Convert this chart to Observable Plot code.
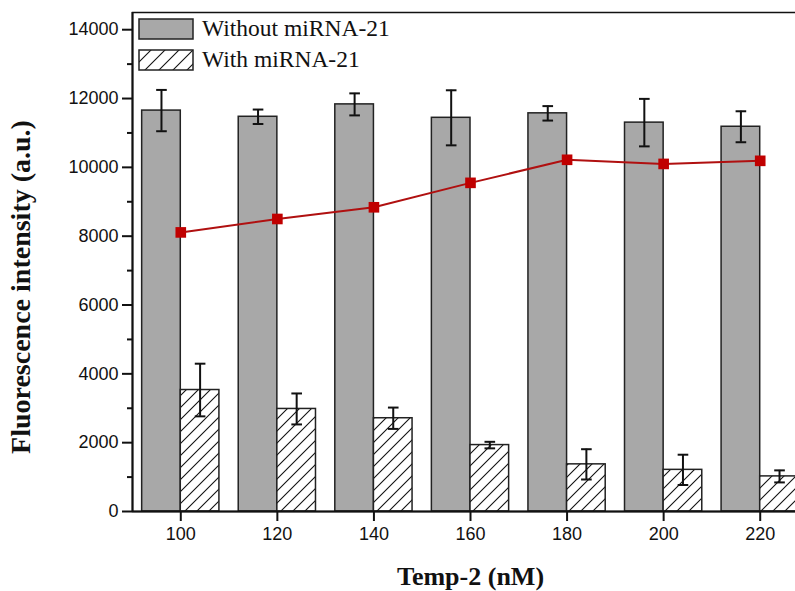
<!DOCTYPE html>
<html>
<head>
<meta charset="utf-8">
<script src="https://cdn.jsdelivr.net/npm/d3@7"></script>
<script src="https://cdn.jsdelivr.net/npm/@observablehq/plot@0.6"></script>
<style>
  html, body { margin: 0; padding: 0; background: white; }
  #wrap { position: relative; width: 795px; height: 591px; overflow: hidden; }
  .leg { position: absolute; left: 138px; font-family: "Liberation Serif", "Times New Roman", serif; font-size: 23.5px; color: #111; display: flex; align-items: center; white-space: nowrap; }
  .leg svg { margin-right: 8px; }
</style>
</head>
<body>
<div id="wrap"></div>
<script>
const categories = [100, 120, 140, 160, 180, 200, 220];
const withoutValues = [11650, 11470, 11830, 11440, 11570, 11300, 11180];
const withoutErrors = [600, 210, 320, 800, 210, 690, 450];
const withValues = [3530, 2980, 2710, 1930, 1370, 1210, 1020];
const withErrors = [765, 450, 310, 95, 440, 440, 175];
const lineValues = [8110, 8500, 8840, 9550, 10220, 10100, 10190];
const yTicks = [0, 2000, 4000, 6000, 8000, 10000, 12000, 14000];
const yMinorTicks = [1000, 3000, 5000, 7000, 9000, 11000, 13000];
const seriesNames = ["Without miRNA-21", "With miRNA-21"];
const xLabel = "Temp-2 (nM)";
const yLabel = "Fluorescence intensity (a.u.)";

const data = categories.map((c, i) => ({
  cat: c,
  without: withoutValues[i], withoutErr: withoutErrors[i],
  with: withValues[i], withErr: withErrors[i],
  line: lineValues[i]
}));

const halfW = 8;   // bar width in x units
const cap = 1.1;   // error cap half-width in x units

function hatchDefs() {
  const defs = d3.create("svg:defs");
  const p = defs.append("pattern")
    .attr("id", "hatch").attr("patternUnits", "userSpaceOnUse")
    .attr("width", 12).attr("height", 12);
  p.append("rect").attr("width", 12).attr("height", 12).attr("fill", "white");
  p.append("path").attr("d", "M0,12L12,0M-3,3L3,-3M9,15L15,9")
    .attr("stroke", "#111").attr("stroke-width", 1.1);
  return defs.node();
}

const chart = Plot.plot({
  width: 795, height: 591,
  marginLeft: 132, marginTop: 12, marginBottom: 80, marginRight: -13,
  x: {domain: [90, 230]},
  y: {domain: [0, 14500]},
  style: {fontFamily: "'Liberation Sans', Arial, sans-serif", fontSize: "18px", background: "white", color: "#111"},
  marks: [
    hatchDefs,
    Plot.rect(data, {x1: d => d.cat - halfW, x2: d => d.cat, y1: 0, y2: "without", fill: "#a8a8a8", stroke: "#222", strokeWidth: 1.5}),
    Plot.rect(data, {x1: d => d.cat, x2: d => d.cat + halfW, y1: 0, y2: "with", fill: "url(#hatch)", stroke: "#222", strokeWidth: 1.5}),
    Plot.ruleX(data, {x: d => d.cat - halfW / 2, y1: d => d.without - d.withoutErr, y2: d => d.without + d.withoutErr, stroke: "#111", strokeWidth: 2}),
    Plot.link(data, {x1: d => d.cat - halfW / 2 - cap, x2: d => d.cat - halfW / 2 + cap, y1: d => d.without + d.withoutErr, y2: d => d.without + d.withoutErr, stroke: "#111", strokeWidth: 2}),
    Plot.link(data, {x1: d => d.cat - halfW / 2 - cap, x2: d => d.cat - halfW / 2 + cap, y1: d => d.without - d.withoutErr, y2: d => d.without - d.withoutErr, stroke: "#111", strokeWidth: 2}),
    Plot.ruleX(data, {x: d => d.cat + halfW / 2, y1: d => d.with - d.withErr, y2: d => d.with + d.withErr, stroke: "#111", strokeWidth: 2}),
    Plot.link(data, {x1: d => d.cat + halfW / 2 - cap, x2: d => d.cat + halfW / 2 + cap, y1: d => d.with + d.withErr, y2: d => d.with + d.withErr, stroke: "#111", strokeWidth: 2}),
    Plot.link(data, {x1: d => d.cat + halfW / 2 - cap, x2: d => d.cat + halfW / 2 + cap, y1: d => d.with - d.withErr, y2: d => d.with - d.withErr, stroke: "#111", strokeWidth: 2}),
    Plot.line(data, {x: "cat", y: "line", stroke: "#b01010", strokeWidth: 2}),
    Plot.dot(data, {x: "cat", y: "line", symbol: "square", r: 6, fill: "#c00000", stroke: "none"}),
    Plot.frame({stroke: "#111", strokeWidth: 1.5}),
    Plot.axisY({ticks: yTicks, tickSize: 10, tickPadding: 4, label: null, strokeWidth: 2, tickFormat: d => String(d)}),
    Plot.axisY({ticks: yMinorTicks, tickSize: 5, text: null, label: null, strokeWidth: 2}),
    Plot.axisX({ticks: categories, tickSize: 10, tickPadding: 6, label: null, strokeWidth: 2, tickFormat: d => String(d)}),
    Plot.ruleY([0], {stroke: "#111", strokeWidth: 2}),
    Plot.ruleX([90], {stroke: "#111", strokeWidth: 2}),
    Plot.text([xLabel], {frameAnchor: "bottom", dy: 73, lineAnchor: "bottom", textAnchor: "middle", fontSize: 26, fontWeight: "bold", fontFamily: "'Liberation Serif', 'Times New Roman', serif"}),
    Plot.text([yLabel], {frameAnchor: "left", dx: -111, dy: 25, rotate: -90, textAnchor: "middle", lineAnchor: "middle", fontSize: 28, fontWeight: "bold", fontFamily: "'Liberation Serif', 'Times New Roman', serif"})
  ]
});

const wrap = document.getElementById("wrap");
wrap.appendChild(chart);

function legendRow(top, name, fill, withPattern) {
  const row = document.createElement("div");
  row.className = "leg";
  row.style.top = top + "px";
  const s = d3.create("svg").attr("width", 56).attr("height", 22);
  if (withPattern) {
    const p = s.append("defs").append("pattern").attr("id", "hatchLeg").attr("patternUnits", "userSpaceOnUse").attr("width", 14).attr("height", 14);
    p.append("rect").attr("width", 14).attr("height", 14).attr("fill", "white");
    p.append("path").attr("d", "M0,14L14,0M-3,3L3,-3M11,17L17,11").attr("stroke", "#111").attr("stroke-width", 1.1);
  }
  s.append("rect").attr("x", 1).attr("y", 1).attr("width", 54).attr("height", 20)
    .attr("fill", withPattern ? "url(#hatchLeg)" : fill).attr("stroke", "#222").attr("stroke-width", 1.5);
  row.appendChild(s.node());
  const t = document.createElement("span");
  t.textContent = name;
  row.appendChild(t);
  wrap.appendChild(row);
}
legendRow(15, seriesNames[0], "#a8a8a8", false);
legendRow(46, seriesNames[1], null, true);
</script>
</body>
</html>
